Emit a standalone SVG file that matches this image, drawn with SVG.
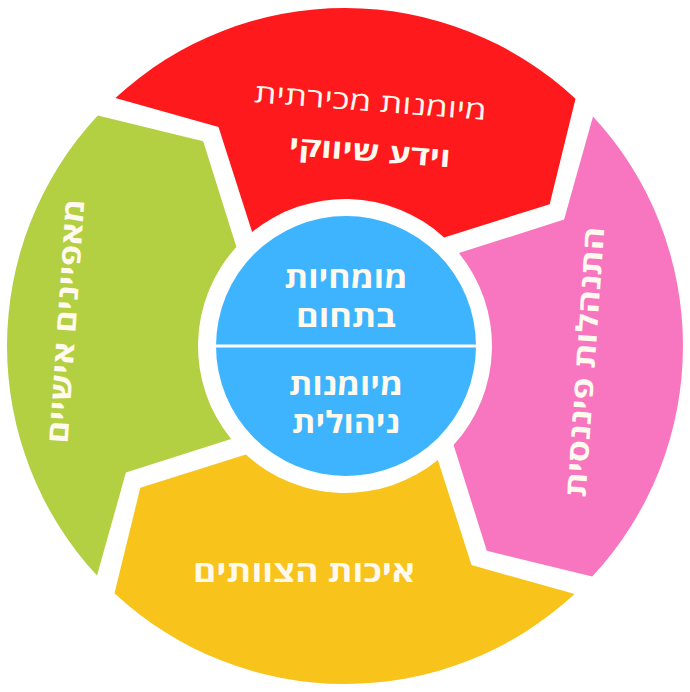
<svg xmlns="http://www.w3.org/2000/svg" width="690" height="692" viewBox="0 0 690 692">
  <style>
    .t { font-family: "Open Sans", "DejaVu Sans", "Liberation Sans", sans-serif; fill: #FFF9EE; text-anchor: middle; }
    .b { font-weight: bold; }
    .r { font-weight: normal; }
  </style>
  <rect width="690" height="692" fill="#FFFFFF"/>
  <g id="seg-red">
    <path d="M115.4,98.0 A338,338 0 0 1 575.5,98.8 L549.7,204.2 L444.1,237.4 A147,147 0 0 0 252.1,232.1 L218.5,126.9 Z" fill="#FE1A1C"/>
    <g transform="rotate(4.4 368 135)">
      <text class="t r" x="368" y="111" font-size="26" textLength="233" lengthAdjust="spacingAndGlyphs">מיומנות מכירתית</text>
      <text class="t b" x="371" y="161" font-size="27" textLength="162" lengthAdjust="spacingAndGlyphs">וידע שיווקי</text>
    </g>
  </g>
  <g id="seg-pink">
    <path d="M593.0,116.4 A338,338 0 0 1 592.2,576.5 L486.8,550.7 L453.6,445.1 A147,147 0 0 0 458.9,253.1 L564.1,219.5 Z" fill="#F875BF"/>
    <text class="t b" transform="translate(585 362) rotate(-86)" x="0" y="10" font-size="29" textLength="271" lengthAdjust="spacingAndGlyphs">התנהלות פיננסית</text>
  </g>
  <g id="seg-yellow">
    <path d="M574.6,594.0 A338,338 0 0 1 114.5,593.2 L140.3,487.8 L245.9,454.6 A147,147 0 0 0 437.9,459.9 L471.5,565.1 Z" fill="#F8C31A"/>
    <text class="t b" x="304" y="582" font-size="29" textLength="222" lengthAdjust="spacingAndGlyphs">איכות הצוותים</text>
  </g>
  <g id="seg-green">
    <path d="M97.0,575.6 A338,338 0 0 1 97.8,115.5 L203.2,141.3 L236.4,246.9 A147,147 0 0 0 231.1,438.9 L125.9,472.5 Z" fill="#B3CF42"/>
    <text class="t b" transform="translate(66 321) rotate(-86)" x="0" y="10" font-size="29" textLength="245" lengthAdjust="spacingAndGlyphs">מאפיינים אישיים</text>
  </g>
  <g id="center">
    <circle cx="346" cy="346" r="130" fill="#3DB4FD"/>
    <line x1="214" y1="346" x2="478" y2="346" stroke="#FFFFFF" stroke-width="3"/>
    <text class="t b" x="346" y="288" font-size="30" textLength="123" lengthAdjust="spacingAndGlyphs">מומחיות</text>
    <text class="t b" x="346" y="327" font-size="30" textLength="100" lengthAdjust="spacingAndGlyphs">בתחום</text>
    <text class="t b" x="346" y="395" font-size="30" textLength="114" lengthAdjust="spacingAndGlyphs">מיומנות</text>
    <text class="t b" x="346" y="433" font-size="30" textLength="108" lengthAdjust="spacingAndGlyphs">ניהולית</text>
  </g>
  <g id="connectors"/>
</svg>
